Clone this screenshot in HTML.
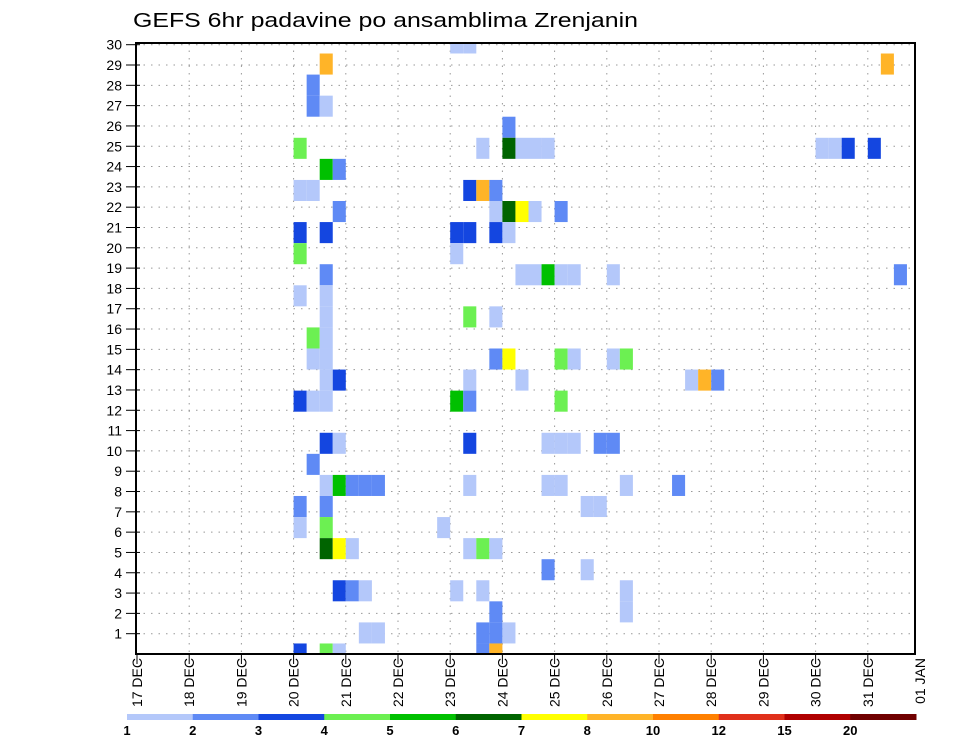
<!DOCTYPE html>
<html><head><meta charset="utf-8"><style>
html,body{margin:0;padding:0;background:#fff;}
svg{display:block;font-family:"Liberation Sans",sans-serif;}
</style></head><body>
<svg id="chart" width="960" height="742" viewBox="0 0 960 742" xmlns="http://www.w3.org/2000/svg">
<text x="133" y="27" font-size="20" textLength="505" lengthAdjust="spacingAndGlyphs" fill="#000">GEFS 6hr padavine po ansamblima Zrenjanin</text>
<g id="grid"></g>
<g id="cells"></g>
<g id="axes"></g>
<g id="legend"></g>
</svg>
<script>
// data: time step index (6h steps from 17 DEC 00Z), ensemble member slot, precipitation (mm)
const cellSteps   = [24,25, 14,57, 13, 13,14, 28, 12,26,28,29,30,31,52,53,54,56, 14,15, 12,13,25,26,27, 15,27,28,29,30,32, 12,14,24,25,27,28, 12,24, 14,29,30,31,32,33,36,58, 12,14, 14,25,27, 13,14, 13,14,27,28,32,33,36,37, 14,15,25,29,42,43,44, 12,13,14,24,25,32, 14,15,25,31,32,33,35,36, 13, 14,15,16,17,18,25,31,32,37,41, 12,14,34,35, 12,14,23, 14,15,16,25,26,27, 31,34, 15,16,17,24,26,37, 27,37, 17,18,26,27,28, 12,14,15,26,27];
const cellMembers = [29,29, 28,28, 27, 26,26, 25, 24,24,24,24,24,24,24,24,24,24, 23,23, 22,22,22,22,22, 21,21,21,21,21,21, 20,20,20,20,20,20, 19,19, 18,18,18,18,18,18,18,18, 17,17, 16,16,16, 15,15, 14,14,14,14,14,14,14,14, 13,13,13,13,13,13,13, 12,12,12,12,12,12, 10,10,10,10,10,10,10,10, 9, 8,8,8,8,8,8,8,8,8,8, 7,7,7,7, 6,6,6, 5,5,5,5,5,5, 4,4, 3,3,3,3,3,3, 2,2, 1,1,1,1,1, 0,0,0,0,0];
const cellValues  = [1.5,1.5, 9,9, 2.5, 2.5,1.5, 2.5, 4.5,1.5,6.5,1.5,1.5,1.5,1.5,1.5,3.5,3.5, 5.5,2.5, 1.5,1.5,3.5,9,2.5, 2.5,1.5,6.5,7.5,1.5,2.5, 3.5,3.5,3.5,3.5,3.5,1.5, 4.5,1.5, 2.5,1.5,1.5,5.5,1.5,1.5,1.5,2.5, 1.5,1.5, 1.5,4.5,1.5, 4.5,1.5, 1.5,1.5,2.5,7.5,4.5,1.5,1.5,4.5, 1.5,3.5,1.5,1.5,1.5,9,2.5, 3.5,1.5,1.5,5.5,2.5,4.5, 3.5,1.5,3.5,1.5,1.5,1.5,2.5,2.5, 2.5, 1.5,5.5,2.5,2.5,2.5,1.5,1.5,1.5,1.5,2.5, 2.5,2.5,1.5,1.5, 1.5,4.5,1.5, 6.5,7.5,1.5,1.5,4.5,1.5, 2.5,1.5, 3.5,2.5,1.5,1.5,1.5,1.5, 2.5,1.5, 1.5,1.5,2.5,2.5,1.5, 3.5,4.5,1.5,2.5,9];
const xTickLabels = ["17 DEC","18 DEC","19 DEC","20 DEC","21 DEC","22 DEC","23 DEC","24 DEC","25 DEC","26 DEC","27 DEC","28 DEC","29 DEC","30 DEC","31 DEC","01 JAN"];
const yTickLabels = ["1","2","3","4","5","6","7","8","9","10","11","12","13","14","15","16","17","18","19","20","21","22","23","24","25","26","27","28","29","30"];
const legendBreaks = [1,2,3,4,5,6,7,8,10,12,15,20];
const legendColors = ["#b4c8fa","#5f8af5","#1446e0","#6cf052","#00c000","#006400","#ffff00","#ffb428","#ff8000","#e0301a","#b00000","#700000"];

const NS="http://www.w3.org/2000/svg";
const L=136,R=915,T=43,B=654;
const xStep=s=>137+13.05*s;
const xDay=d=>137+52.2*d;
const yTick=k=>B-20.31*k;
const yMember=m=>B-21.07*m;
function mk(tag,attrs,parent){const e=document.createElementNS(NS,tag);for(const k in attrs)e.setAttribute(k,attrs[k]);parent.appendChild(e);return e;}
function colorFor(v){let c=legendColors[0];for(let i=0;i<legendBreaks.length;i++){if(v>=legendBreaks[i])c=legendColors[i];}return c;}

const grid=document.getElementById('grid');
yTickLabels.forEach((t,i)=>{const y=yTick(i+1);
  const ln=mk('line',{x1:L,x2:R,y1:y,y2:y,stroke:'#999','stroke-width':1,'stroke-dasharray':'1.5,6'},grid);
  
  
});
xTickLabels.forEach((t,i)=>{const x=xDay(i); if(x<=L+1||x>=R-1)return;
  const ln=mk('line',{x1:x,x2:x,y1:T,y2:B,stroke:'#999','stroke-width':1,'stroke-dasharray':'1.5,6'},grid);
  
  
});

const cells=document.getElementById('cells');
for(let i=0;i<cellSteps.length;i++){
  const x0=xStep(cellSteps[i]), x1=xStep(cellSteps[i]+1);
  let y0=yMember(cellMembers[i])-10.53, y1=yMember(cellMembers[i])+10.53;
  y0=Math.max(y0,T); y1=Math.min(y1,B);
  const r=mk('rect',{x:x0,y:y0,width:x1-x0,height:y1-y0,fill:colorFor(cellValues[i])},cells);
  
  
}

const axes=document.getElementById('axes');
const frame=mk('rect',{x:L,y:T,width:R-L,height:B-T,fill:'none',stroke:'#000','stroke-width':2},axes);


yTickLabels.forEach((t,i)=>{const y=yTick(i+1);
  const tk=mk('line',{x1:L-10,x2:L+4,y1:y,y2:y,stroke:'#000','stroke-width':1},axes);
  
  
  const tx=mk('text',{x:L-14,y:y+5,'font-size':14,'text-anchor':'end',fill:'#000'},axes);
  tx.textContent=t;
  
  
});
xTickLabels.forEach((t,i)=>{const x=xDay(i);
  if(x<R-2){const tk=mk('line',{x1:x,x2:x,y1:B,y2:B+10,stroke:'#000','stroke-width':1},axes);
    
    }
  const tx=mk('text',{x:0,y:0,'font-size':14,'text-anchor':'end',fill:'#000',transform:`translate(${x+5},${B+4}) rotate(-90)`},axes);
  tx.textContent=t;
  
  
});

const leg=document.getElementById('legend');
const lx0=127,lx1=916,segW=(lx1-lx0)/legendColors.length;
legendColors.forEach((c,i)=>{
  const r=mk('rect',{x:lx0+i*segW,y:714,width:segW+0.5,height:6,fill:c},leg);
  
  
});
legendBreaks.forEach((b,i)=>{
  const tx=mk('text',{x:lx0+i*segW,y:735,'font-size':13,'font-weight':'bold','text-anchor':'middle',fill:'#000'},leg);
  tx.textContent=String(b);
  
  
});
</script>
</body></html>
